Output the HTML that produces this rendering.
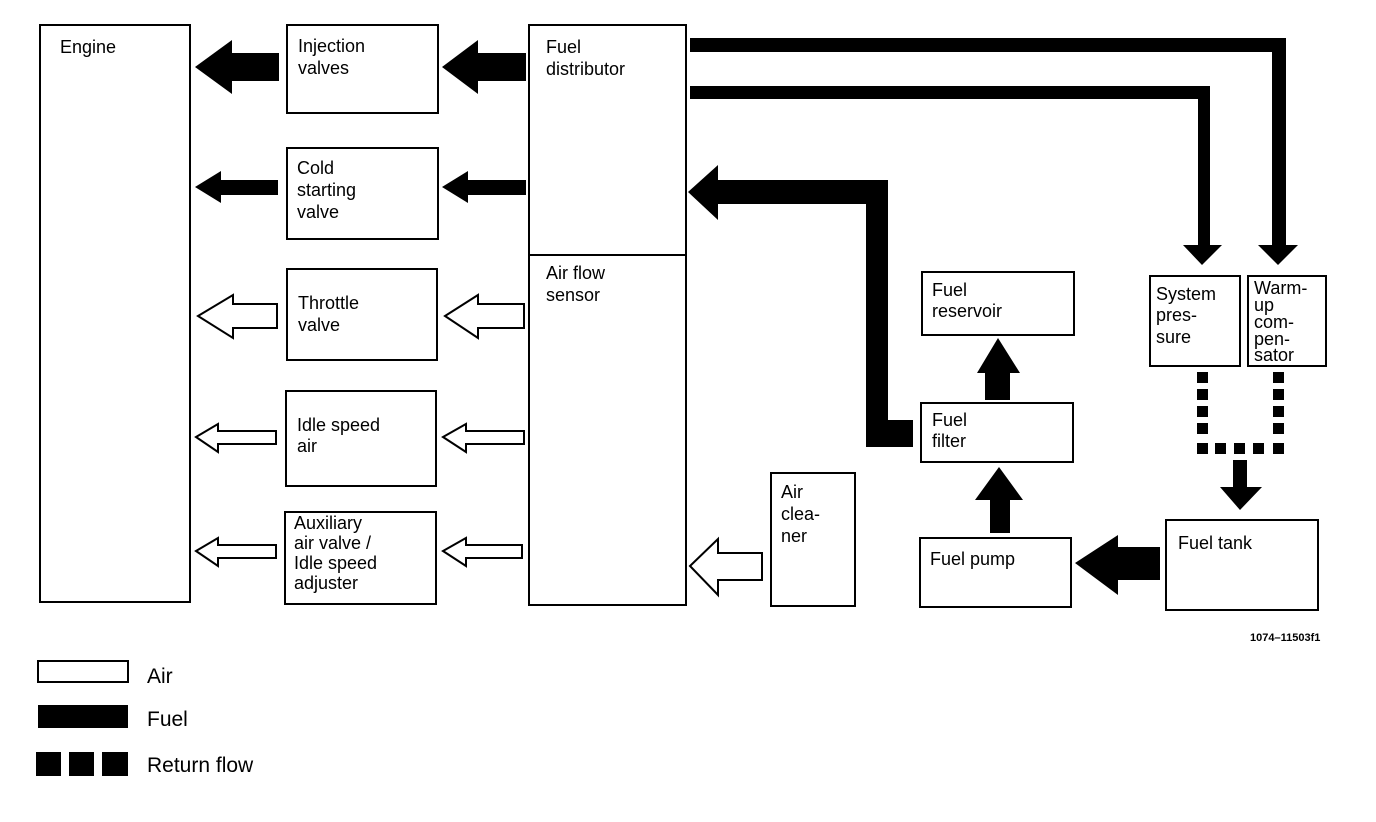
<!DOCTYPE html>
<html><head><meta charset="utf-8"><style>
html,body{margin:0;padding:0;background:#fff}
svg{display:block}
text{font-family:"Liberation Sans",sans-serif;font-size:18px;fill:#000}
</style></head><body>
<svg width="1376" height="822" viewBox="0 0 1376 822" xmlns="http://www.w3.org/2000/svg">
<g fill="none" stroke="#000" stroke-width="2">
<rect x="40" y="25" width="150" height="577"/>
<rect x="287" y="25" width="151" height="88"/>
<rect x="287" y="148" width="151" height="91"/>
<rect x="287" y="269" width="150" height="91"/>
<rect x="286" y="391" width="150" height="95"/>
<rect x="285" y="512" width="151" height="92"/>
<rect x="529" y="25" width="157" height="580"/>
<line x1="529" y1="255" x2="686" y2="255"/>
<rect x="771" y="473" width="84" height="133"/>
<rect x="922" y="272" width="152" height="63"/>
<rect x="921" y="403" width="152" height="59"/>
<rect x="920" y="538" width="151" height="69"/>
<rect x="1150" y="276" width="90" height="90"/>
<rect x="1248" y="276" width="78" height="90"/>
<rect x="1166" y="520" width="152" height="90"/>
</g>
<g fill="#000">
<polygon points="195,67 232,40 232,53 279,53 279,81 232,81 232,94"/>
<polygon points="442,67 478,40 478,53 526,53 526,81 478,81 478,94"/>
<polygon points="195,187 221,171 221,180 278,180 278,195 221,195 221,203"/>
<polygon points="442,187 468,171 468,180 526,180 526,195 468,195 468,203"/>
<polygon points="690,38 1286,38 1286,245 1298,245 1278,265 1258,245 1272,245 1272,52 690,52"/>
<polygon points="690,86 1210,86 1210,245 1222,245 1202,265 1183,245 1198,245 1198,99 690,99"/>
<polygon points="688,192 718,165 718,180 888,180 888,420 913,420 913,447 866,447 866,204 718,204 718,220"/>
<polygon points="998,338 1020,373 1010,373 1010,400 985,400 985,373 977,373"/>
<polygon points="999,467 1023,500 1010,500 1010,533 990,533 990,500 975,500"/>
<polygon points="1075,563 1118,535 1118,547 1160,547 1160,580 1118,580 1118,595"/>
<polygon points="1233,460 1247,460 1247,487 1262,487 1240,510 1220,487 1233,487"/>
<rect x="1197" y="372" width="11" height="11"/><rect x="1197" y="389" width="11" height="11"/><rect x="1197" y="406" width="11" height="11"/><rect x="1197" y="423" width="11" height="11"/><rect x="1197" y="443" width="11" height="11"/>
<rect x="1215" y="443" width="11" height="11"/><rect x="1234" y="443" width="11" height="11"/><rect x="1253" y="443" width="11" height="11"/><rect x="1273" y="443" width="11" height="11"/>
<rect x="1273" y="372" width="11" height="11"/><rect x="1273" y="389" width="11" height="11"/><rect x="1273" y="406" width="11" height="11"/><rect x="1273" y="423" width="11" height="11"/>
<rect x="38" y="705" width="90" height="23"/>
<rect x="36" y="752" width="25" height="24"/><rect x="69" y="752" width="25" height="24"/><rect x="102" y="752" width="26" height="24"/>
</g>
<g fill="#fff" stroke="#000" stroke-width="2">
<polygon points="198,316 233,295 233,304 277,304 277,328 233,328 233,338"/>
<polygon points="445,316 478,295 478,304 524,304 524,328 478,328 478,338"/>
<polygon points="196,437 218,424 218,431 276,431 276,444 218,444 218,452"/>
<polygon points="443,437 466,424 466,431 524,431 524,444 466,444 466,452"/>
<polygon points="196,551 218,538 218,545 276,545 276,558 218,558 218,566"/>
<polygon points="443,551 466,538 466,545 522,545 522,558 466,558 466,566"/>
<polygon points="690,566 718,539 718,553 762,553 762,580 718,580 718,595"/>
<rect x="38" y="661" width="90" height="21"/>
</g>
<text x="60" y="53">Engine</text>
<text x="298" y="52">Injection</text><text x="298" y="74">valves</text>
<text x="297" y="174">Cold</text><text x="297" y="196">starting</text><text x="297" y="218">valve</text>
<text x="298" y="309">Throttle</text><text x="298" y="331">valve</text>
<text x="297" y="431">Idle speed</text><text x="297" y="452">air</text>
<text x="294" y="529">Auxiliary</text><text x="294" y="549">air valve /</text><text x="294" y="569">Idle speed</text><text x="294" y="589">adjuster</text>
<text x="546" y="53">Fuel</text><text x="546" y="75">distributor</text>
<text x="546" y="279">Air flow</text><text x="546" y="301">sensor</text>
<text x="781" y="498">Air</text><text x="781" y="520">clea-</text><text x="781" y="542">ner</text>
<text x="932" y="296">Fuel</text><text x="932" y="317">reservoir</text>
<text x="932" y="426">Fuel</text><text x="932" y="447">filter</text>
<text x="930" y="565">Fuel pump</text>
<text x="1156" y="300">System</text><text x="1156" y="321">pres-</text><text x="1156" y="343">sure</text>
<text x="1254" y="294">Warm-</text><text x="1254" y="311">up</text><text x="1254" y="328">com-</text><text x="1254" y="345">pen-</text><text x="1254" y="361">sator</text>
<text x="1178" y="549">Fuel tank</text>
<text x="1250" y="641" style="font-size:11px;font-weight:bold">1074–11503f1</text>
<text x="147" y="683" style="font-size:21px">Air</text>
<text x="147" y="726" style="font-size:21px">Fuel</text>
<text x="147" y="772" style="font-size:21px">Return flow</text>
</svg>
</body></html>
